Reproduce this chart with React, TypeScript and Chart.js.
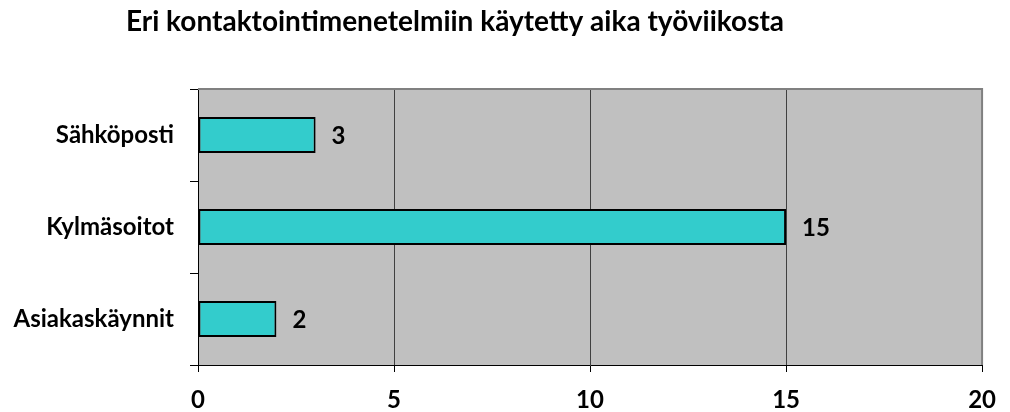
import React, { useEffect, useRef } from "react";
import { Chart, registerables } from "chart.js";

Chart.register(...registerables);

const title = "Eri kontaktointimenetelmiin käytetty aika työviikosta";
const categories = ["Sähköposti", "Kylmäsoitot", "Asiakaskäynnit"];
const hours = [3, 15, 2];
const axisMin = 0;
const axisMax = 20;
const axisStep = 5;

const FONT = "Lato, 'Open Sans', sans-serif";

const plotBackground = {
  id: "plotBackground",
  beforeDraw(chart: any) {
    const { ctx, chartArea: a } = chart;
    ctx.save();
    ctx.fillStyle = "#c0c0c0";
    ctx.fillRect(a.left, a.top, a.right - a.left, a.bottom - a.top);
    ctx.restore();
  },
  afterDatasetsDraw(chart: any) {
    const { ctx, chartArea: a } = chart;
    ctx.save();
    ctx.strokeStyle = "#808080";
    ctx.lineWidth = 2;
    ctx.beginPath();
    ctx.moveTo(a.left, a.top);
    ctx.lineTo(a.right, a.top);
    ctx.lineTo(a.right, a.bottom);
    ctx.stroke();
    ctx.restore();
  },
};

const valueLabels = {
  id: "valueLabels",
  afterDatasetsDraw(chart: any) {
    const { ctx } = chart;
    const meta = chart.getDatasetMeta(0);
    ctx.save();
    ctx.font = `bold 24px ${FONT}`;
    ctx.fillStyle = "#000";
    ctx.textAlign = "left";
    ctx.textBaseline = "middle";
    meta.data.forEach((bar: any, i: number) => {
      ctx.fillText(String(chart.data.datasets[0].data[i]), bar.x + 16, bar.y + 1);
    });
    ctx.restore();
  },
};

const chartTitle = {
  id: "chartTitle",
  afterDraw(chart: any) {
    const { ctx } = chart;
    ctx.save();
    ctx.font = `bold 28px ${FONT}`;
    ctx.fillStyle = "#000";
    ctx.textAlign = "center";
    ctx.textBaseline = "middle";
    ctx.fillText(title, 455, 22);
    ctx.restore();
  },
};

export default function App() {
  const ref = useRef<HTMLCanvasElement>(null);

  useEffect(() => {
    if (!ref.current) return;
    const chart = new Chart(ref.current, {
      type: "bar",
      data: {
        labels: categories,
        datasets: [
          {
            data: hours,
            backgroundColor: "#33cccc",
            borderColor: "#000",
            borderWidth: 2,
            borderSkipped: false,
            barPercentage: 0.39,
            categoryPercentage: 1,
          },
        ],
      },
      options: {
        indexAxis: "y",
        animation: false,
        responsive: false,
        layout: { padding: { left: 0, right: 24, top: 89, bottom: 0 } },
        plugins: {
          legend: { display: false },
          tooltip: { enabled: false },
        },
        scales: {
          x: {
            min: axisMin,
            max: axisMax,
            ticks: {
              stepSize: axisStep,
              color: "#000",
              font: { family: FONT, size: 24, weight: "bold" },
              padding: 14,
            },
            grid: {
              color: "#404040",
              lineWidth: 1,
              tickLength: 7,
              tickColor: "#000",
            },
            border: { color: "#000", width: 1 },
            afterFit(s: any) {
              s.height = 47;
            },
          },
          y: {
            ticks: {
              color: "#000",
              font: { family: FONT, size: 24, weight: "bold" },
              padding: 16,
            },
            grid: {
              offset: true,
              drawOnChartArea: false,
              tickLength: 8,
              color: "#000",
            },
            border: { color: "#000", width: 1 },
            afterFit(s: any) {
              s.width = 198;
            },
          },
        },
      },
      plugins: [plotBackground, valueLabels, chartTitle],
    });
    return () => chart.destroy();
  }, []);

  return (
    <div style={{ position: "fixed", left: 0, top: 0, width: 1010, height: 412, background: "#fff" }}>
      <canvas ref={ref} width={1010} height={412} />
    </div>
  );
}
